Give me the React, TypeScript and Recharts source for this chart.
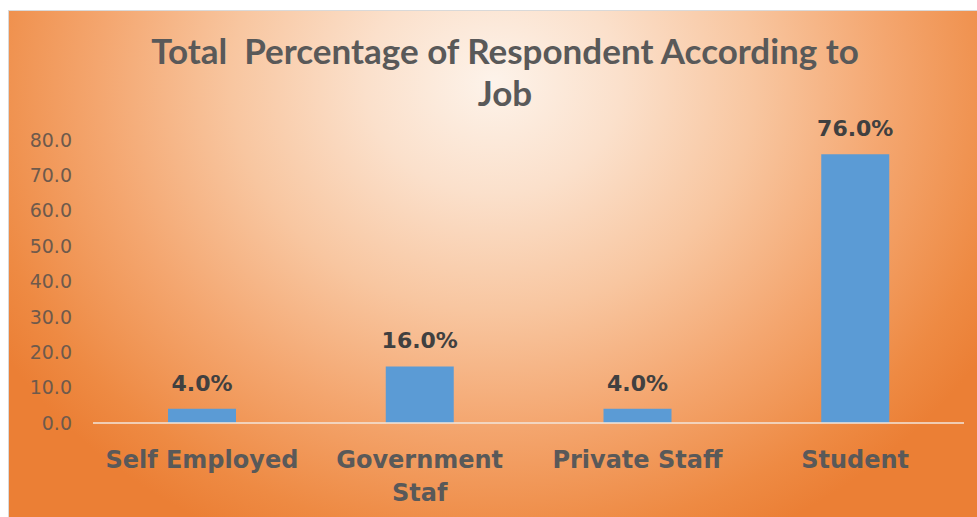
import React from 'react';
import { BarChart, Bar, XAxis, YAxis, LabelList } from 'recharts';

const jobs = ['Self Employed', 'Government Staf', 'Private Staff', 'Student'];
const percentages = [4.0, 16.0, 4.0, 76.0];
const yTicks = [0, 10, 20, 30, 40, 50, 60, 70, 80];
const titleLines = ['Total  Percentage of Respondent According to', 'Job'];

const data = jobs.map((job, i) => ({ job, value: percentages[i] }));

const textColor = '#595959';
const labelFont = '"DejaVu Sans", Verdana, sans-serif';

// category label, wrapped onto a second line when it is long
function JobTick(props: any) {
  const { x, y, payload } = props;
  const words = String(payload.value).split(' ');
  const lines = payload.value.length > 14 ? [words.slice(0, -1).join(' '), words[words.length - 1]] : [payload.value];
  return (
    <text x={x} y={y} textAnchor="middle" fill={textColor} fontFamily={labelFont} fontWeight="bold" fontSize={24}>
      {lines.map((line, i) => (
        <tspan key={i} x={x} dy={i === 0 ? 37 : 33}>{line}</tspan>
      ))}
    </text>
  );
}

export default function App() {
  return (
    <div style={{ position: 'absolute', left: 0, top: 0, width: 977, height: 517, background: '#fff', overflow: 'hidden' }}>
      <div
        style={{
          position: 'absolute',
          left: 8,
          top: 10,
          width: 969,
          height: 507,
          borderLeft: '1px solid #d9d9d9',
          borderTop: '1px solid #d9d9d9',
          background: 'radial-gradient(ellipse 60% 100% at 50% 14%, #fdf3ea 0%, #fbe0cb 22%, #f8c6a0 45%, #f4a66f 68%, #ee8a43 90%, #eb7f35 100%)',
        }}
      />
      <div
        style={{
          position: 'absolute',
          left: 0,
          top: 29,
          width: 1010,
          textAlign: 'center',
          fontFamily: 'Lato, sans-serif',
          fontWeight: 'bold',
          fontSize: 35,
          lineHeight: '42px',
          color: textColor,
          whiteSpace: 'pre',
        }}
      >
        {titleLines.map((line, i) => (
          <div key={i}>{line}</div>
        ))}
      </div>
      <div style={{ position: 'absolute', left: 9, top: 10 }}>
        <BarChart width={968} height={507} data={data} margin={{ top: 130, right: 13, left: 14, bottom: 14 }}>
          <XAxis
            dataKey="job"
            height={80}
            axisLine={{ stroke: '#f2e6dc', strokeWidth: 1.5 }}
            tickLine={false}
            interval={0}
            tick={<JobTick />}
          />
          <YAxis
            domain={[0, 80]}
            ticks={yTicks}
            width={70}
            axisLine={false}
            tickLine={false}
            tickMargin={15}
            tickFormatter={(v: number) => v.toFixed(1)}
            tick={{ fill: '#6e5a4c', fontSize: 19, fontFamily: labelFont }}
          />
          <Bar dataKey="value" fill="#5b9bd5" barSize={68} isAnimationActive={false}>
            <LabelList
              dataKey="value"
              position="top"
              offset={18}
              formatter={(v: any) => `${Number(v).toFixed(1)}%`}
              fill="#404040"
              fontSize={22}
              fontWeight="bold"
              fontFamily={labelFont}
            />
          </Bar>
        </BarChart>
      </div>
    </div>
  );
}
